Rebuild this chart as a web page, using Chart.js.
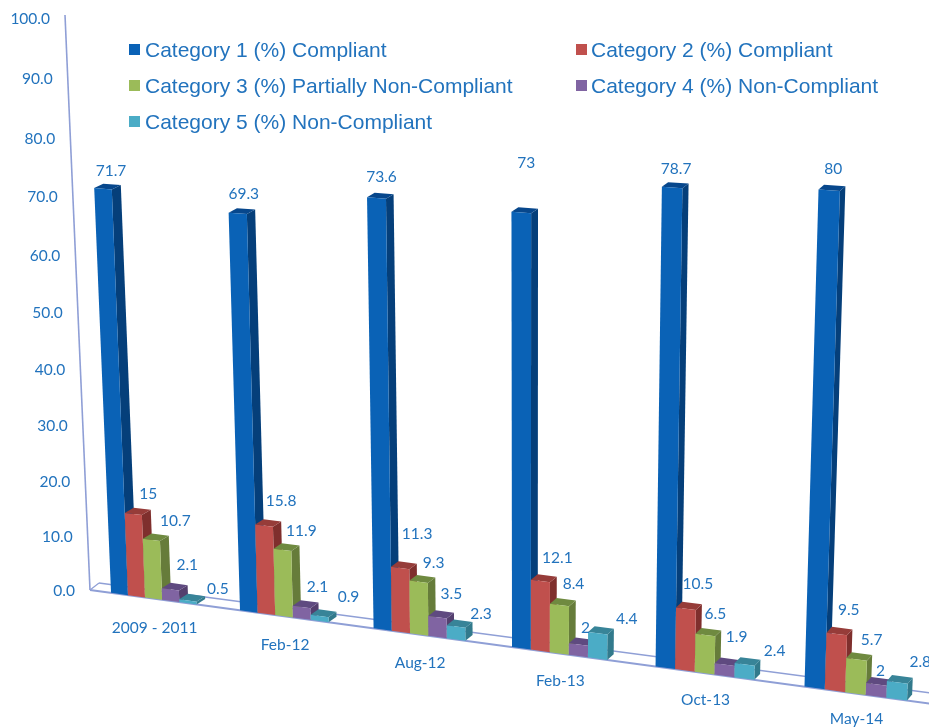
<!DOCTYPE html>
<html>
<head>
<meta charset="utf-8">
<style>
  html, body { margin: 0; padding: 0; background: #fff; overflow: hidden; }
  canvas { display: block; }
</style>
<script src="https://cdn.jsdelivr.net/npm/chart.js@4/dist/chart.umd.js"></script>
</head>
<body>
<canvas id="chart-canvas" width="929" height="728"></canvas>
<script>
const periods = ['2009 - 2011', 'Feb-12', 'Aug-12', 'Feb-13', 'Oct-13', 'May-14'];

const category1 = [71.7, 69.3, 73.6, 73, 78.7, 80];
const category2 = [15, 15.8, 11.3, 12.1, 10.5, 9.5];
const category3 = [10.7, 11.9, 9.3, 8.4, 6.5, 5.7];
const category4 = [2.1, 2.1, 3.5, 2, 1.9, 2];
const category5 = [0.5, 0.9, 2.3, 4.4, 2.4, 2.8];

const seriesNames = [
  'Category 1 (%) Compliant',
  'Category 2 (%) Compliant',
  'Category 3 (%) Partially Non-Compliant',
  'Category 4 (%) Non-Compliant',
  'Category 5 (%) Non-Compliant',
];

const TEXT_COLOR = '#2273bd';
const LINE_COLOR = '#8f9fd6';

// front, side and top colour of each series
const faces = [
  ['#0a62b6', '#053f7a', '#07478c'],
  ['#c0504d', '#7f2f2d', '#963c39'],
  ['#9bbb59', '#667c3a', '#6f8a40'],
  ['#8064a2', '#543f6e', '#5f4a80'],
  ['#4bacc6', '#327a8c', '#388498'],
];

// label shift from the middle of the bar's top edge, per series
const labelShift = [[8, -18], [14, -19], [20, -18], [17, -23], [28, -14]];

// the labels in the picture are not regular, so each one gets a nudge [dx, dy]
const labelNudge = [
  [[0, 0], [-2, -1], [-3, -3], [-3, -32], [-4, -1], [-4, -3]],
  [[1, -1], [3, -6], [3, -15], [3, -4], [-2, -6], [-2, -5]],
  [[4, -1], [-1, -1], [-5, -1], [-6, -3], [-10, -3], [-5, -1]],
  [[0, -1], [-1, 3], [-3, 0], [-10, 6], [-5, -5], [-13, 10]],
  [[2, 2], [1, -5], [-3, 2], [1, 0], [2, 1], [-5, -6]],
];

// the flat plot is mapped onto the tilted plane of the picture
const BL = [90, 590];
const BR = [933, 704];
const TL = [65, 18];
const G = -0.103;
const H = -0.0544;
const TWIST_Y = 5;

function project(u, v) {
  const d = 1 + G * u + H * v;
  return [
    (BL[0] + u * (BR[0] * (1 + G) - BL[0]) + v * (TL[0] * (1 + H) - BL[0])) / d,
    (BL[1] + u * (BR[1] * (1 + G) - BL[1]) + v * (TL[1] * (1 + H) - BL[1])) / d - TWIST_Y * u * v,
  ];
}

// how far the back of a bar sits from its front
function depth(u, v) {
  return [9.2 - 4.2 * u, -5.4 - 0.6 * u + 1.5 * v];
}

function poly(ctx, points, color) {
  ctx.fillStyle = color;
  ctx.beginPath();
  points.forEach((p, i) => (i ? ctx.lineTo(p[0], p[1]) : ctx.moveTo(p[0], p[1])));
  ctx.closePath();
  ctx.fill();
}

function line(ctx, a, b, width) {
  ctx.strokeStyle = LINE_COLOR;
  ctx.lineWidth = width;
  ctx.beginPath();
  ctx.moveTo(a[0], a[1]);
  ctx.lineTo(b[0], b[1]);
  ctx.stroke();
}

const tiltPlugin = {
  id: 'tilt',
  beforeDatasetsDraw(chart) {
    const { ctx, chartArea, scales } = chart;
    const toU = (px) => (px - chartArea.left) / chartArea.width;
    const toV = (py) => (chartArea.bottom - py) / chartArea.height;

    // walls and floor
    const floorBack0 = [BL[0] + 9, BL[1] - 7];
    const floorBack1 = [BR[0] + 6, BR[1] - 10];
    line(ctx, [TL[0], TL[1] - 3], BL, 1.6);
    line(ctx, BL, floorBack0, 1.2);
    line(ctx, floorBack0, floorBack1, 1.4);
    line(ctx, BL, BR, 2);

    // value axis
    ctx.font = '15.5px Lato';
    ctx.fillStyle = TEXT_COLOR;
    ctx.textBaseline = 'middle';
    ctx.textAlign = 'right';
    scales.y.ticks.forEach((tick) => {
      const p = project(0, toV(scales.y.getPixelForValue(tick.value)));
      ctx.fillText(tick.value.toFixed(1), p[0] - 15, p[1] + 1);
    });

    // category axis
    ctx.textAlign = 'center';
    periods.forEach((name, i) => {
      const u = toU(scales.x.getPixelForTick(i));
      const p = project(u, 0);
      ctx.fillText(name, p[0] + 1, p[1] + 30 - 4.5 * u);
    });

    // bars, left to right so each one covers its neighbour's side
    periods.forEach((name, i) => {
      chart.data.datasets.forEach((ds, s) => {
        const bar = chart.getDatasetMeta(s).data[i];
        const u0 = toU(bar.x - bar.width / 2);
        const u1 = toU(bar.x + bar.width / 2);
        const v0 = toV(bar.base);
        const v1 = toV(bar.y);
        const a = project(u0, v0);
        const b = project(u1, v0);
        const c = project(u1, v1);
        const e = project(u0, v1);
        const d0 = depth(u1, v0);
        const d1 = depth(u1, v1);
        const low = [b[0] + d0[0], b[1] + d0[1]];
        const high = (p) => [p[0] + d1[0], p[1] + d1[1]];
        poly(ctx, [b, c, high(c), low], faces[s][1]);
        poly(ctx, [e, c, high(c), high(e)], faces[s][2]);
        poly(ctx, [a, b, c, e], faces[s][0]);
      });
    });

    // data labels
    ctx.fillStyle = TEXT_COLOR;
    chart.data.datasets.forEach((ds, s) => {
      ds.data.forEach((value, i) => {
        const bar = chart.getDatasetMeta(s).data[i];
        const p = project(toU(bar.x), toV(bar.y));
        const dx = labelShift[s][0] + labelNudge[s][i][0];
        const dy = labelShift[s][1] + labelNudge[s][i][1];
        ctx.fillText(String(value), p[0] + dx, p[1] + dy);
      });
    });

    // legend in two columns
    ctx.font = '21px "Liberation Sans"';
    ctx.textAlign = 'left';
    chart.data.datasets.forEach((ds, s) => {
      const x = s % 2 ? 576 : 129;
      const y = 50 + 36 * Math.floor(s / 2);
      ctx.fillStyle = faces[s][0];
      ctx.fillRect(x, y - 6, 11, 11);
      ctx.fillStyle = TEXT_COLOR;
      ctx.fillText(ds.label, x + (s % 2 ? 15 : 16), y + 1);
    });

    return false;
  },
};

function createChart() {
  const allValues = [category1, category2, category3, category4, category5];

  new Chart(document.getElementById('chart-canvas'), {
    type: 'bar',
    data: {
      labels: periods,
      datasets: allValues.map((values, s) => ({
        label: seriesNames[s],
        data: values,
        backgroundColor: faces[s][0],
        categoryPercentage: 0.667,
        barPercentage: 1,
      })),
    },
    options: {
      responsive: false,
      animation: false,
      layout: { padding: 0 },
      plugins: { legend: { display: false }, tooltip: { enabled: false } },
      scales: {
        x: { display: false },
        y: { display: false, min: 0, max: 100, ticks: { stepSize: 10 } },
      },
    },
    plugins: [tiltPlugin],
  });
}

document.addEventListener('DOMContentLoaded', createChart);
</script>
</body>
</html>
